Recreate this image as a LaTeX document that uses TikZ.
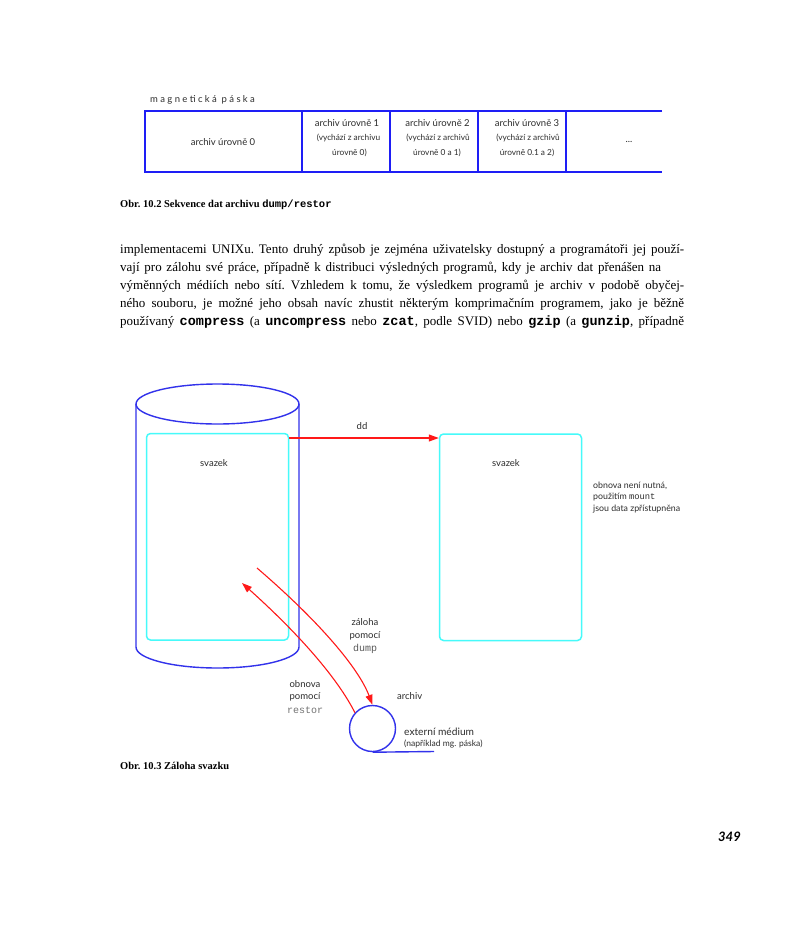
\documentclass[tikz,border=0pt]{standalone}
\usepackage{fontspec}
\setmainfont{Liberation Serif}
\newfontfamily\lab{Lato}
\newfontfamily\labsp[LetterSpace=25]{Lato}
\newfontfamily\mono{Liberation Mono}
\usetikzlibrary{arrows.meta}
\definecolor{tblue}{RGB}{30,30,245}
\definecolor{cblue}{RGB}{50,50,235}
\definecolor{vcyan}{RGB}{70,250,250}
\definecolor{ared}{RGB}{255,25,25}
\definecolor{ltxt}{RGB}{45,45,45}
\tikzset{
  tbl/.style={draw=tblue, line width=1.8pt},
  cyl/.style={draw=cblue, line width=1.4pt},
  vol/.style={draw=vcyan, line width=1.5pt, rounded corners=4pt, minimum width=142pt, minimum height=206.5pt, inner sep=0pt},
  rarr/.style={draw=ared, line width=1.1pt, -{Triangle[length=10pt,width=7pt]}},
  lbl/.style={font=\lab\fontsize{9.5}{11}\selectfont, text=ltxt, inner sep=0pt},
  sml/.style={font=\lab\fontsize{8.3}{10}\selectfont, text=ltxt, inner sep=0pt},
  ptxt/.style={font=\frenchspacing\fontsize{13}{15}\selectfont, inner sep=0pt, anchor=mid west},
  captxt/.style={font=\frenchspacing\bfseries\fontsize{10.5}{12}\selectfont, inner sep=0pt, anchor=mid west},
}
\newcommand{\pmono}[1]{{\mono\bfseries\fontsize{13.5}{15}\selectfont #1}}
\begin{document}
\begin{tikzpicture}[x=1pt,y=-1pt]
\fill[white] (0,0) rectangle (800,932);
\useasboundingbox (0,0) rectangle (800,932);

% ---------- tape table ----------
\node[lbl, anchor=mid west, font=\labsp\fontsize{9.5}{11}\selectfont] (tape) at (150,100) {magnetická páska};
\draw[tbl] (662,111) -- (145,111) -- (145,172) -- (662,172);
\foreach \xx in {302,390,478,566} \draw[tbl] (\xx,111) -- (\xx,172);
\node[lbl] (c0) at (223,142) {archiv úrovně 0};
\node[lbl] (c1a) at (347,123) {archiv úrovně 1};
\node[sml] (c1b) at (348.5,138) {(vychází z archivu};
\node[sml] (c1c) at (349.5,153) {úrovně 0)};
\node[lbl] (c2a) at (437.5,123) {archiv úrovně 2};
\node[sml] (c2b) at (438,138) {(vychází z archivů};
\node[sml] (c2c) at (437,153) {úrovně 0 a 1)};
\node[lbl] (c3a) at (527,123) {archiv úrovně 3};
\node[sml] (c3b) at (528,138) {(vychází z archivů};
\node[sml] (c3c) at (527,153) {úrovně 0.1 a 2)};
\node[lbl] (c4) at (629,142) {...};

\node[captxt] (cap1) at (120,205) {Obr. 10.2 Sekvence dat archivu {\mono\bfseries dump/restor}};

% ---------- paragraph ----------
\node[ptxt] (p1) at (120,251) {\hbox to 564pt{implementacemi UNIXu. Tento druhý způsob je zejména uživatelsky dostupný a programátoři jej použí-}};
\node[ptxt] (p2) at (120,269) {\hbox to 541pt{vají pro zálohu své práce, případně k distribuci výsledných programů, kdy je archiv dat přenášen na}};
\node[ptxt] (p3) at (120,287) {\hbox to 564pt{výměnných médiích nebo sítí. Vzhledem k tomu, že výsledkem programů je archiv v podobě obyčej-}};
\node[ptxt] (p4) at (120,305) {\hbox to 564pt{ného souboru, je možné jeho obsah navíc zhustit některým komprimačním programem, jako je běžně}};
\node[ptxt] (p5) at (120,323) {\hbox to 564pt{používaný \pmono{compress} (a \pmono{uncompress} nebo \pmono{zcat}, podle SVID) nebo \pmono{gzip} (a \pmono{gunzip}, případně}};

% ---------- backup figure ----------
\draw[cyl] (136,404) -- (136,647) arc[start angle=180, end angle=0, x radius=81.5, y radius=21] -- (299,404);
\draw[cyl] (217.5,404) ellipse [x radius=81.5, y radius=20];
\node[vol] (vol1) at (217.5,536.75) {};
\node[vol] (vol2) at (510.5,537.25) {};
\node[lbl] (sv1) at (214,463) {svazek};
\node[lbl] (sv2) at (506,463) {svazek};

\coordinate (ddS) at (vol1.east |- 0,438);
\draw[rarr] (ddS) -- (ddS -| vol2.west);
\node[lbl] (dd) at (362,426) {dd};

\node[sml, anchor=mid west, font=\lab\fontsize{8.8}{10}\selectfont] (n1) at (593,486) {obnova není nutná,};
\node[sml, anchor=mid west, font=\lab\fontsize{8.8}{10}\selectfont] (n2) at (593,497.5) {použitím {\mono mount}};
\node[sml, anchor=mid west, font=\lab\fontsize{8.8}{10}\selectfont] (n3) at (593,509) {jsou data zpřístupněna};

\node[circle, draw=cblue, line width=1.4pt, minimum size=46pt, inner sep=0pt] (med) at (372.5,728.5) {};
\coordinate (tail) at (434,751.5);
\draw[cyl] (med.south) -- (tail);

\coordinate (dumpS) at (257,568);
\draw[rarr] (dumpS) .. controls (321,623) and (359,669) .. (med.north);
\coordinate (restE) at (242,583);
\draw[rarr] (med.138) .. controls (338,679) and (300,635) .. (restE);

\node[lbl] (z1) at (365,622) {záloha};
\node[lbl] (z2) at (365,636) {pomocí};
\node[lbl, font=\mono\fontsize{10}{12}\selectfont, text=black!65] (z3) at (365,649) {dump};
\node[lbl] (o1) at (305,684) {obnova};
\node[lbl] (o2) at (305,697) {pomocí};
\node[lbl, font=\mono\fontsize{10}{12}\selectfont, text=black!55] (o3) at (305,710) {restor};
\node[lbl, anchor=mid west] (arch) at (397,697) {archiv};
\node[lbl, anchor=mid west, font=\lab\fontsize{10.2}{12}\selectfont] (ext1) at (404,733) {externí médium};
\node[sml, anchor=mid west, font=\lab\fontsize{8.5}{10}\selectfont] (ext2) at (404,744) {(například mg. páska)};

\node[captxt] (cap2) at (120,767) {Obr. 10.3 Záloha svazku};

\node[inner sep=0pt, anchor=mid east, font=\lab\bfseries\itshape\fontsize{13}{15}\selectfont] (pg) at (741,839) {349};
\end{tikzpicture}
\end{document}
